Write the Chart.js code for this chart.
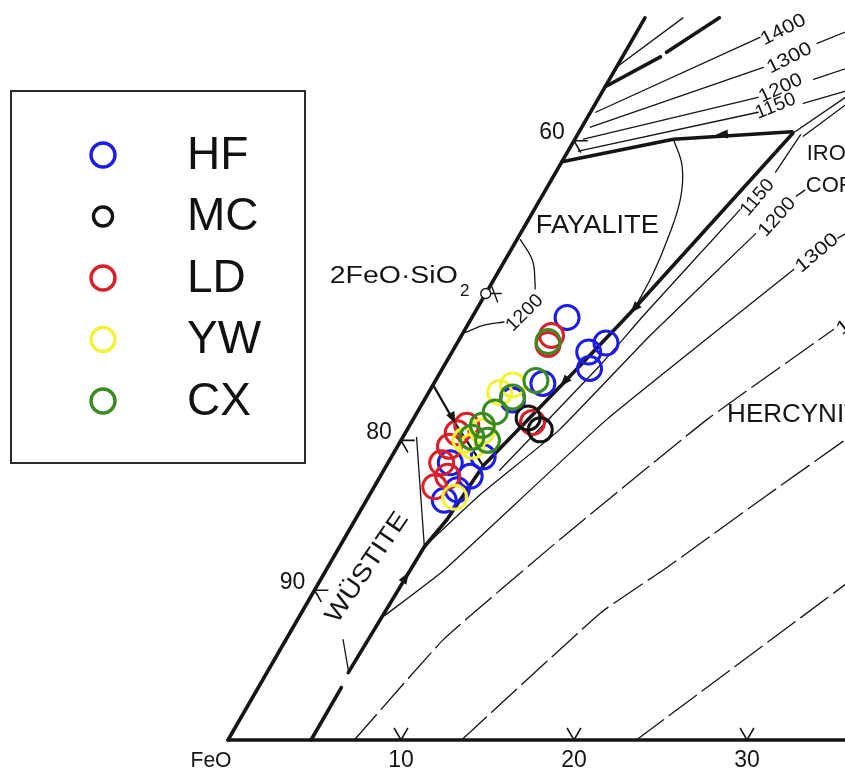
<!DOCTYPE html>
<html lang="en">
<head>
<meta charset="utf-8">
<title>FeO–Al2O3–SiO2 liquidus with slag compositions</title>
<script src="https://cdn.jsdelivr.net/npm/chart.js@4.4.1/dist/chart.umd.min.js"></script>
<style>
  html, body { margin: 0; padding: 0; background: #ffffff; }
  #frame { position: relative; width: 845px; height: 772px; }
</style>
</head>
<body>
<div id="frame"><canvas id="diagram"></canvas></div>
<script>
// ---------- Slag compositions, [Al2O3 wt%, SiO2 wt%] (FeO = balance) ----------
const seriesNames = ['HF', 'MC', 'LD', 'YW', 'CX'];
const HF = [[5.5, 28.2], [7.9, 25.9], [8.6, 26.5], [8.5, 24.8], [6.3, 23.8], [5.1, 22.7],
            [5.3, 18.9], [5.2, 17.6], [3.6, 18.5], [4.9, 16.7], [4.5, 16.0]];
const MC = [[7.7, 20.7], [6.6, 21.5]];
const LD = [[5.3, 26.4], [5.2, 27.0], [7.0, 21.2], [3.0, 20.5], [3.0, 19.6], [3.1, 18.5],
            [3.5, 16.9], [3.9, 17.6], [3.3, 21.0]];
const YW = [[5.0, 16.2], [4.3, 19.6], [4.4, 20.6], [4.1, 23.2], [4.6, 23.7], [3.7, 20.0]];
const CX = [[5.2, 26.6], [5.8, 24.0], [5.0, 22.9], [4.5, 21.9], [4.2, 21.0], [4.0, 20.2], [5.0, 20.0]];

// ---------- Joins and field boundaries, [Al2O3, SiO2] ----------
const joinFeOSiO2   = [[0, 0], [0, 48.2]];
const joinFeOAl2O3  = [[0, 0], [37, 0]];
const wusHercLower  = [[4.8, 0], [4.8, 3.5]];
const wusHercUpper  = [[4.7, 4.5], [4.9, 12.9], [5.3, 14.7], [5.6, 18.3]];
const wusFay        = [[0, 23.7], [2.5, 21.2], [5.6, 18.3]];
const fayHerc       = [[5.6, 18.3], [7.4, 23.6], [9.0, 28.5], [12.4, 40.5]];
const hercCordA     = [[12.4, 40.5], [14.4, 43.1]];
const hercCordB     = [[13.1, 40.3], [14.7, 42.7]];
const fayTrid       = [[0, 38.6], [5.7, 40.1], [12.3, 40.6]];
const fayCurve      = [[5.7, 40.1], [7.1, 38.3], [8.1, 36.1], [8.7, 33.4], [9.0, 31.2], [9.1, 28.9]];
const fay1200a      = [[0.2, 33.4], [1.6, 32.0], [2.5, 30.5], [2.7, 30.1]];
const fay1200b      = [[2.0, 27.9], [1.0, 27.7], [0.1, 27.2]];
const tieFrom80     = [[0.8, 20.2], [4.9, 12.9]];
const wusSpur       = [[3.3, 6.7], [4.6, 4.7]];
const silicaHeavyA  = [[0, 43.6], [2.2, 45.6]];
const silicaHeavyB  = [[2.4, 45.9], [4.3, 48.2]];
const silicaThin    = [[0, 44.9], [2.2, 48.2]];

// ---------- Isotherms (°C), [Al2O3, SiO2] ----------
const sil1400  = [[0.3, 41.9], [7.3, 46.9]];
const sil1300a = [[0.5, 40.9], [8.5, 44.9]];
const sil1300b = [[10.8, 46.5], [12.3, 47.4]];
const sil1200a = [[0.5, 40.1], [9.2, 42.9]];
const sil1200b = [[11.8, 44.1], [13.5, 44.9]];
const sil1150a = [[0.6, 39.3], [9.7, 41.9]];
const sil1150b = [[12.0, 42.5], [14.0, 43.3]];
const herc1150a = [[6.7, 18.0], [9.0, 25.0], [9.9, 28.5], [11.9, 35.4]];
const herc1150b = [[12.7, 37.9], [12.9, 40.4]];
const herc1200a = [[4.9, 12.9], [6.4, 16.4], [8.8, 20.7], [10.9, 27.0], [13.6, 33.8]];
const herc1200b = [[14.7, 36.3], [15.0, 36.7]];
const herc1300a = [[4.9, 8.3], [6.8, 11.3], [11.2, 21.4], [17.0, 31.4]];
const herc1300b = [[18.5, 33.5], [19.0, 34.0]];
const herc1400  = [[7.3, 0], [9.1, 6.7], [12.5, 13.4], [17.0, 21.4], [21.3, 27.4]];
const herc1500  = [[13.5, 0], [17.3, 8.5], [19.6, 11.5], [22.9, 16.2], [26.5, 21.2]];
const herc1600  = [[23.6, 0], [31.3, 11.6]];

// ---------- Ticks ----------
const baseTicks = [10, 20, 30];              // Al2O3 wt% along FeO–Al2O3
const edgeTicks = [10, 20, 40];              // SiO2 wt% along FeO–SiO2
const edgeTickLabels = ['90', '80', '60'];   // FeO wt% at those ticks
const fayaliteComp = [0, 29.8];              // 2FeO·SiO2

// Crystallisation-path arrows: [tip, tail]
const pathArrows = [
  [[4.85, 11.2], [4.8, 9.5]],
  [[2.6, 21.1], [1.5, 22.3]],
  [[8.0, 40.4], [9.5, 40.5]],
  [[9.0, 28.5], [9.6, 30.6]],
  [[7.4, 23.6], [7.9, 25.4]]
];

// ---------- Geometry: equilateral ternary on a Cartesian chart ----------
const toXY = ([a, s]) => ({ x: a + s / 2, y: s });
const PX_PER_UNIT = 17.3;
const ROW = PX_PER_UNIT * Math.sqrt(3) / 2;

const FONT = "'Liberation Sans', Arial, sans-serif";
const INK = '#151515';

const styles = {
  heavy:  { borderWidth: 3.6 },
  medium: { borderWidth: 2.2 },
  light:  { borderWidth: 1.3 },
  dashed: { borderWidth: 1.3, borderDash: [34, 7] }
};

const traces = [
  [joinFeOSiO2, 'heavy'], [joinFeOAl2O3, 'heavy'],
  [wusHercLower, 'heavy'], [wusHercUpper, 'heavy'], [wusFay, 'medium'],
  [fayHerc, 'heavy'], [hercCordA, 'light'], [hercCordB, 'light'], [fayTrid, 'heavy'],
  [fayCurve, 'light', 0.4], [fay1200a, 'light', 0.4], [fay1200b, 'light', 0.4],
  [tieFrom80, 'light'], [wusSpur, 'light'],
  [silicaHeavyA, 'heavy'], [silicaHeavyB, 'heavy'], [silicaThin, 'light'],
  [sil1400, 'light'], [sil1300a, 'light'], [sil1300b, 'light'],
  [sil1200a, 'light'], [sil1200b, 'light'], [sil1150a, 'light'], [sil1150b, 'light'],
  [herc1150a, 'light', 0.12], [herc1150b, 'light'],
  [herc1200a, 'light', 0.12], [herc1200b, 'light'],
  [herc1300a, 'light', 0.12], [herc1300b, 'light'],
  [herc1400, 'dashed', 0.12], [herc1500, 'dashed', 0.12], [herc1600, 'dashed']
];

const lineDatasets = traces.map(([pts, kind, tension]) => Object.assign({
  type: 'scatter',
  data: pts.map(toXY),
  showLine: true,
  pointRadius: 0,
  borderColor: INK,
  borderCapStyle: 'round',
  borderJoinStyle: 'round',
  tension: tension || 0,
  fill: false,
  order: 20
}, styles[kind]));

// Tick marks drawn along the directions of the other two sides
const tickDatasets = [
  ...baseTicks.map(a => [[a - 0.8, 0.8], [a, 0], [a, 0.8]]),
  ...edgeTicks.map(s => [[0.8, s], [0, s], [0.8, s - 0.8]])
].map(pts => ({
  type: 'scatter', data: pts.map(toXY), showLine: true, pointRadius: 0,
  borderColor: INK, borderWidth: 1.6, tension: 0, order: 20
}));

const seriesData = [HF, MC, LD, YW, CX];
const seriesColors = ['#1c1ce8', '#111111', '#d8202a', '#f2f23a', '#3c8a22'];
const seriesOrder = [4, 2, 3, 1, 0];
const pointDatasets = seriesData.map((pts, i) => ({
  type: 'scatter',
  label: seriesNames[i],
  data: pts.map(toXY),
  showLine: false,
  pointStyle: 'circle',
  pointRadius: 12,
  pointBorderWidth: 3,
  pointBorderColor: seriesColors[i],
  pointBackgroundColor: 'rgba(0,0,0,0)',
  order: seriesOrder[i]
}));

// ---------- Text placed in composition space ----------
const fieldLabels = [
  { text: 'FAYALITE', at: [4.2, 34.3], size: 25, width: 123 },
  { text: 'HERCYNITE', at: [18.0, 21.7], size: 26, align: 'left' },
  { text: 'IRON', at: [13.9, 39.1], size: 22, align: 'left' },
  { text: 'CORDIERITE', at: [14.9, 37.0], size: 22, align: 'left' },
  { text: 'WÜSTITE', at: [2.3, 11.5], size: 25, rot: -56, width: 128 }
];
const isothermLabels = [
  { text: '1400', at: [8.4, 47.4], rot: -27, width: 48 },
  { text: '1300', at: [9.7, 45.5], rot: -27, width: 48 },
  { text: '1200', at: [10.2, 43.5], rot: -25, width: 46 },
  { text: '1150', at: [10.5, 42.3], rot: -22, width: 42 },
  { text: '1200', at: [2.9, 28.5], rot: -45, width: 44 },
  { text: '1150', at: [12.5, 36.2], rot: -50, width: 42 },
  { text: '1200', at: [14.3, 34.9], rot: -48, width: 46 },
  { text: '1300', at: [17.8, 32.5], rot: -40, width: 50 },
  { text: '1400', at: [22.3, 28.3], rot: -38, width: 50 }
];

function toPx(chart, comp) {
  const p = toXY(comp);
  return [chart.scales.x.getPixelForValue(p.x), chart.scales.y.getPixelForValue(p.y)];
}

function drawText(ctx, text, x, y, o) {
  ctx.save();
  ctx.translate(x, y);
  if (o.rot) ctx.rotate(o.rot * Math.PI / 180);
  ctx.font = `${o.size || 19}px ${FONT}`;
  ctx.fillStyle = INK;
  ctx.textBaseline = o.baseline || 'middle';
  ctx.textAlign = o.align || 'center';
  if (o.width) ctx.scale(o.width / ctx.measureText(text).width, 1);
  ctx.fillText(text, 0, 0);
  ctx.restore();
}

const diagramText = {
  id: 'diagramText',
  afterDatasetsDraw(chart) {
    const ctx = chart.ctx;
    // field names and isotherm temperatures
    fieldLabels.concat(isothermLabels).forEach(l => {
      const [x, y] = toPx(chart, l.at);
      drawText(ctx, l.text, x, y, l);
    });
    // base tick labels
    const [cx, cy] = toPx(chart, [0, 0]);
    drawText(ctx, 'FeO', cx - 17, cy + 21, { size: 22, width: 41 });
    baseTicks.forEach(a => {
      const [x, y] = toPx(chart, [a, 0]);
      drawText(ctx, String(a), x, y + 21, { size: 23 });
    });
    // edge tick labels (FeO wt%)
    edgeTicks.forEach((s, i) => {
      const [x, y] = toPx(chart, [0, s]);
      drawText(ctx, edgeTickLabels[i], x - 22, y - 8, { size: 23 });
    });
    // 2FeO·SiO2 composition point
    const [fx, fy] = toPx(chart, fayaliteComp);
    ctx.save();
    ctx.strokeStyle = INK;
    ctx.lineWidth = 1.4;
    ctx.beginPath();
    ctx.moveTo(fx + 4, fy);
    ctx.lineTo(fx + 16, fy);
    ctx.moveTo(fx + 6, fy - 7);
    ctx.lineTo(fx + 12, fy + 9);
    ctx.stroke();
    ctx.beginPath();
    ctx.arc(fx, fy, 5, 0, Math.PI * 2);
    ctx.fillStyle = '#ffffff';
    ctx.fill();
    ctx.stroke();
    ctx.restore();
    drawText(ctx, '2FeO·SiO', fx - 28, fy - 17, { size: 23, align: 'right', width: 128 });
    drawText(ctx, '2', fx - 21, fy - 2, { size: 17 });
    // arrowheads on the boundary curves
    ctx.save();
    ctx.fillStyle = INK;
    pathArrows.forEach(([tip, tail]) => {
      const [tx, ty] = toPx(chart, tip);
      const [bx, by] = toPx(chart, tail);
      const ang = Math.atan2(ty - by, tx - bx);
      ctx.save();
      ctx.translate(tx, ty);
      ctx.rotate(ang);
      ctx.beginPath();
      ctx.moveTo(0, 0);
      ctx.lineTo(-12, -4.5);
      ctx.lineTo(-12, 4.5);
      ctx.closePath();
      ctx.fill();
      ctx.restore();
    });
    ctx.restore();
  }
};

// Boxed key for the five sample groups
const sampleKey = {
  id: 'sampleKey',
  afterDraw(chart) {
    const ctx = chart.ctx;
    const box = { x: 11, y: 91, w: 294, h: 372 };
    ctx.save();
    ctx.fillStyle = '#ffffff';
    ctx.fillRect(box.x, box.y, box.w, box.h);
    ctx.strokeStyle = '#2a2a2a';
    ctx.lineWidth = 2;
    ctx.strokeRect(box.x, box.y, box.w, box.h);
    seriesNames.forEach((name, i) => {
      const y = 155 + i * 61.5;
      ctx.beginPath();
      ctx.arc(103, y, name === 'MC' ? 9.5 : 12, 0, Math.PI * 2);
      ctx.lineWidth = 3.4;
      ctx.strokeStyle = seriesColors[i];
      ctx.stroke();
      ctx.font = `46px ${FONT}`;
      ctx.fillStyle = '#111111';
      ctx.textAlign = 'left';
      ctx.textBaseline = 'middle';
      ctx.fillText(name, 187, y + 1);
    });
    ctx.restore();
  }
};

new Chart(document.getElementById('diagram'), {
  type: 'scatter',
  data: { datasets: [...lineDatasets, ...tickDatasets, ...pointDatasets] },
  options: {
    responsive: true,
    maintainAspectRatio: false,
    devicePixelRatio: 1,
    animation: false,
    events: [],
    layout: { padding: 0, autoPadding: false },
    plugins: { legend: { display: false }, tooltip: { enabled: false }, title: { display: false } },
    scales: {
      x: { type: 'linear', display: false, min: -228 / PX_PER_UNIT, max: (845 - 228) / PX_PER_UNIT },
      y: { type: 'linear', display: false, min: -(772 - 740) / ROW, max: 740 / ROW }
    }
  },
  plugins: [diagramText, sampleKey]
});
</script>
</body>
</html>
